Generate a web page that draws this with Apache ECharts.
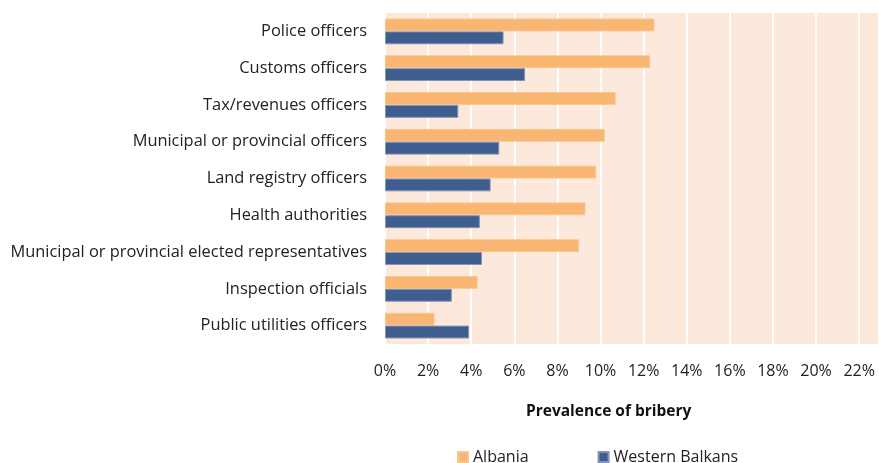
<!DOCTYPE html>
<html>
<head>
<meta charset="utf-8">
<script src="https://cdn.jsdelivr.net/npm/echarts@6/dist/echarts.min.js"></script>
<style>
  html, body { margin: 0; padding: 0; background: #fff; }
  #chart { width: 879px; height: 463px; }
</style>
</head>
<body>
<div id="chart"></div>
<script>
  // categories, top to bottom
  var categories = [
    'Police officers',
    'Customs officers',
    'Tax/revenues officers',
    'Municipal or provincial officers',
    'Land registry officers',
    'Health authorities',
    'Municipal or provincial elected representatives',
    'Inspection officials',
    'Public utilities officers'
  ];
  var albania = [12.5, 12.3, 10.7, 10.2, 9.8, 9.3, 9.0, 4.3, 2.3];
  var westernBalkans = [5.5, 6.5, 3.4, 5.3, 4.9, 4.4, 4.5, 3.1, 3.9];
  var seriesNames = ['Albania', 'Western Balkans'];

  var myChart = echarts.init(document.getElementById('chart'));
  var font = 'Open Sans, Liberation Sans, Arial, sans-serif';

  var option = {
    animation: false,
    textStyle: { fontFamily: font },
    grid: {
      left: 385,
      right: 0,
      top: 13,
      bottom: 119,
      outerBoundsMode: 'none',
      containLabel: false
    },
    legend: {
      data: seriesNames,
      left: 452,
      top: 444,
      itemWidth: 10,
      itemHeight: 10,
      itemGap: 69,
      icon: 'rect',
      textStyle: { fontSize: 16, color: '#222', fontFamily: font }
    },
    graphic: [{
      type: 'text',
      left: 526,
      top: 404,
      style: {
        text: 'Prevalence of bribery',
        font: 'bold 15.5px ' + font,
        fill: '#111'
      }
    }],
    xAxis: {
      type: 'value',
      min: 0,
      max: 22.92,   // picture is cut off just past 22%
      interval: 2,
      axisLabel: {
        formatter: function (v) {
          return v % 2 === 0 ? v + '%' : '';
        },
        fontSize: 16,
        color: '#222',
        margin: 19
      },
      axisLine: { show: false },
      axisTick: { show: false },
      splitLine: {
        show: true,
        lineStyle: { color: '#ffffff', width: 2 }
      },
      splitArea: {
        show: true,
        areaStyle: { color: ['#FDE9DB', '#FDE9DB'] }
      }
    },
    yAxis: {
      type: 'category',
      inverse: true,
      data: categories,
      axisLabel: {
        fontSize: 16.4,
        color: '#222',
        margin: 18
      },
      axisLine: { show: false },
      axisTick: { show: false }
    },
    series: [{
      name: seriesNames[0],
      type: 'bar',
      barGap: '0%',
      barCategoryGap: '30%',
      itemStyle: { color: '#F9B672', borderColor: '#FBC590', borderWidth: 1 },
      data: albania
    }, {
      name: seriesNames[1],
      type: 'bar',
      itemStyle: { color: '#3F5D8E', borderColor: '#8393B5', borderWidth: 1 },
      data: westernBalkans
    }]
  };

  myChart.setOption(option);
</script>
</body>
</html>
